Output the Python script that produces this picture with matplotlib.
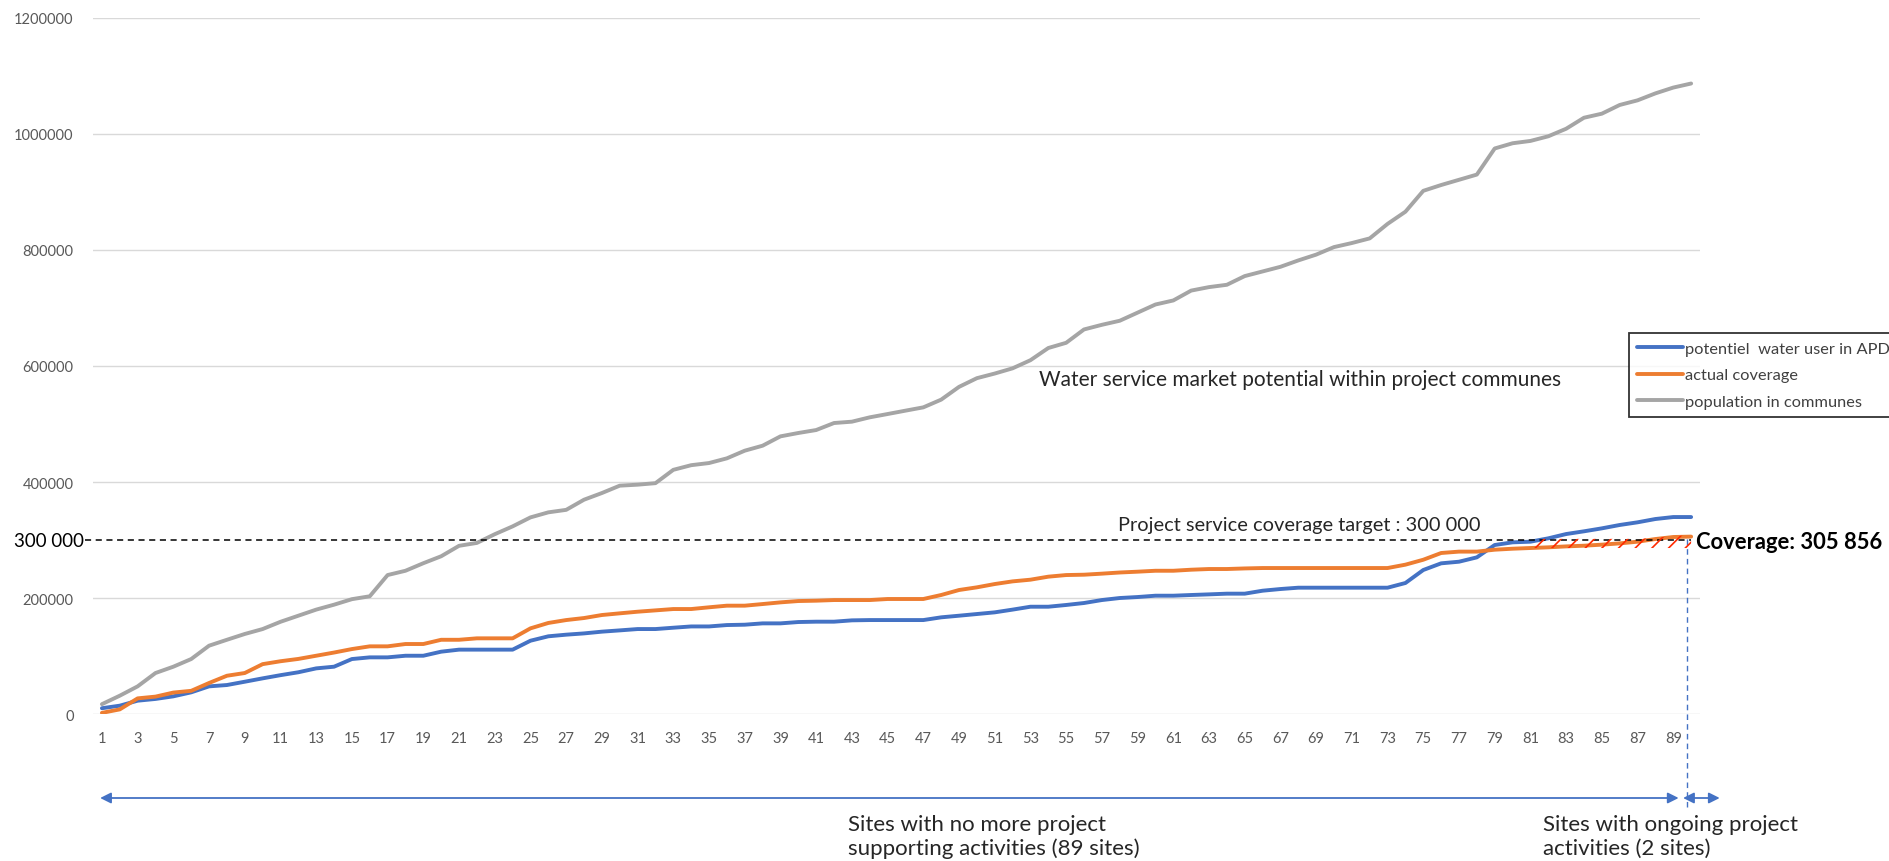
import numpy as np
import matplotlib
matplotlib.use("Agg")
import matplotlib.pyplot as plt

plt.rcParams['font.family'] = ['Lato', 'DejaVu Sans']
plt.rcParams['hatch.linewidth'] = 1.2

# sites 1..90, cumulative counts
sites = np.arange(1, 91)

potential_users = [
    10000, 14400, 23000, 26000, 30500, 37400, 47700, 50000, 55700, 61500,
    67000, 72000, 78700, 81600, 94800, 97700, 97700, 100500, 100500, 107500,
    111000, 111000, 111000, 111000, 126400, 134000, 136800, 139000, 142000, 144200,
    146500, 146500, 148800, 151000, 151000, 153400, 154000, 156300, 156300, 158600,
    159200, 159200, 161500, 162000, 162000, 162000, 162000, 166700, 169500, 172400,
    175300, 180000, 185000, 185000, 188000, 191400, 196500, 200000, 201700, 204000,
    204000, 205200, 206300, 207500, 207500, 212600, 215500, 217800, 217800, 217800,
    217800, 217800, 217800, 225900, 248300, 259800, 262600, 270100, 291400, 296000,
    297100, 302900, 310300, 315000, 320100, 325900, 330500, 336200, 339600, 339600,
]

actual_coverage = [
    2000, 8000, 27000, 30000, 37000, 40000, 53500, 66000, 70700, 86000,
    91000, 95000, 100500, 106000, 112000, 116700, 116700, 120700, 120700, 128000,
    128000, 130500, 130500, 130500, 147700, 157000, 162000, 165500, 170700, 173600,
    176400, 178700, 181000, 181000, 184000, 186800, 186800, 189600, 192500, 194800,
    195400, 196500, 196500, 196500, 198300, 198300, 198300, 205200, 213800, 218400,
    224100, 228700, 231600, 236800, 239600, 240200, 242000, 244000, 245400, 247000,
    247000, 248800, 250000, 250000, 251000, 251700, 251700, 251700, 251700, 251700,
    251700, 251700, 251700, 257500, 266000, 277600, 280000, 280000, 283300, 285000,
    286200, 287400, 289000, 290200, 292000, 294200, 297100, 301700, 305200, 305856,
]

population = [
    17000, 31600, 47700, 70700, 81600, 94800, 117800, 128000, 138000, 146500,
    159000, 169500, 180000, 188500, 198000, 203000, 239600, 247000, 260000, 272000,
    290000, 295000, 310000, 323500, 339000, 347700, 352000, 369500, 381000, 393700,
    395400, 398000, 421000, 429000, 432700, 440800, 454000, 462600, 478700, 484500,
    489600, 501700, 504000, 511500, 517200, 523000, 528700, 542000, 564000, 579000,
    587000, 596000, 610000, 631000, 640000, 663000, 671000, 678000, 692000, 706000,
    713000, 730000, 736000, 740000, 755000, 763000, 771000, 782000, 792000, 805000,
    812000, 820000, 845000, 866000, 902000, 912000, 921000, 930000, 975000, 984000,
    988000, 996000, 1009000, 1028000, 1035000, 1050000, 1058000, 1070000, 1080000, 1087000,
]

series_labels = ["potentiel  water user in APD", "actual coverage", "population in communes"]
target = 300000
final_coverage = actual_coverage[-1]

blue = "#4472C4"
orange = "#ED7D31"
grey = "#A5A5A5"
tick_grey = "#595959"

fig = plt.figure(figsize=(18.9, 8.62), dpi=100)
ax = fig.add_axes([0.0492, 0.1705, 0.8503, 0.8075])

ax.plot(sites, potential_users, color=blue, lw=2.8, label=series_labels[0], solid_capstyle='round')
ax.plot(sites, actual_coverage, color=orange, lw=2.8, label=series_labels[1], solid_capstyle='round')
ax.plot(sites, population, color=grey, lw=2.8, label=series_labels[2], solid_capstyle='round')

# hatched band: coverage reached at site 81 up to the target / final coverage
cov = np.array(actual_coverage)
tail = slice(80, 90)
ax.fill_between(sites[tail], cov[80], np.maximum(cov[tail], target) + 2000,
                facecolor='none', edgecolor='#FF2A00', hatch='//', linewidth=0, zorder=3)

# target line
ax.plot([0.05, 90], [target, target], color='black', lw=1.1, ls=(0, (4, 3)), clip_on=False)
ax.text(0.0, target, "300 000", ha='right', va='center', fontsize=13.5, color='black')

ax.set_xlim(0.5, 90.5)
ax.set_ylim(0, 1200000)
ax.set_yticks(np.arange(0, 1200001, 200000))
ax.set_yticklabels([str(v) for v in range(0, 1200001, 200000)])
ax.set_xticks(sites[::2])
ax.set_xticklabels([str(s) for s in sites[::2]])
ax.tick_params(axis='y', length=0, pad=14, labelsize=10.5, labelcolor=tick_grey)
ax.tick_params(axis='x', length=0, pad=12, labelsize=10.5, labelcolor=tick_grey)
ax.grid(axis='y', color='#D9D9D9', lw=1.0)
ax.set_axisbelow(True)
for s in ax.spines.values():
    s.set_visible(False)

ax.text(53.5, 577600, "Water service market potential within project communes",
        fontsize=15, color='#262626', va='center', ha='left')
ax.text(57.9, 327600, "Project service coverage target : 300 000",
        fontsize=14.4, color='#262626', va='center', ha='left')
ax.text(90.25, final_coverage - 8000, "Coverage: {:,}".format(final_coverage).replace(",", " "),
        fontsize=15.8, fontweight='bold', color='black', va='center', ha='left')

# end of completed sites marker
ax.plot([89.75, 89.75], [-160000, final_coverage], color=blue, lw=1.0,
        ls=(0, (4, 3)), clip_on=False)

arrow_y = 1 - 799 / 862
arrow_kw = dict(arrowstyle='<|-|>', color=blue, lw=1.3, mutation_scale=16,
                shrinkA=0, shrinkB=0)
ax.annotate('', xy=(89.3, arrow_y), xytext=(0.9, arrow_y),
            xycoords=('data', 'figure fraction'), textcoords=('data', 'figure fraction'),
            arrowprops=arrow_kw, annotation_clip=False)
ax.annotate('', xy=(91.6, arrow_y), xytext=(89.55, arrow_y),
            xycoords=('data', 'figure fraction'), textcoords=('data', 'figure fraction'),
            arrowprops=arrow_kw, annotation_clip=False)

fig.text(848 / 1890, 1 - 837 / 862, "Sites with no more project\nsupporting activities (89 sites)",
         fontsize=16, color='#262626', ha='left', va='center', linespacing=1.2)
fig.text(1543 / 1890, 1 - 837 / 862, "Sites with ongoing project\nactivities (2 sites)",
         fontsize=16, color='#262626', ha='left', va='center', linespacing=1.2)

leg = ax.legend(loc='upper left', bbox_to_anchor=(1629 / 1890, 1 - 334 / 862),
                bbox_transform=fig.transFigure, fontsize=11.8, frameon=True, fancybox=False,
                handlelength=2.8, handletextpad=0.1, labelspacing=0.75, borderpad=0.5,
                borderaxespad=0)
leg.get_frame().set_edgecolor('black')
leg.get_frame().set_linewidth(1.3)
for t in leg.get_texts():
    t.set_color('#404040')

fig.savefig("out.png", dpi=100)
